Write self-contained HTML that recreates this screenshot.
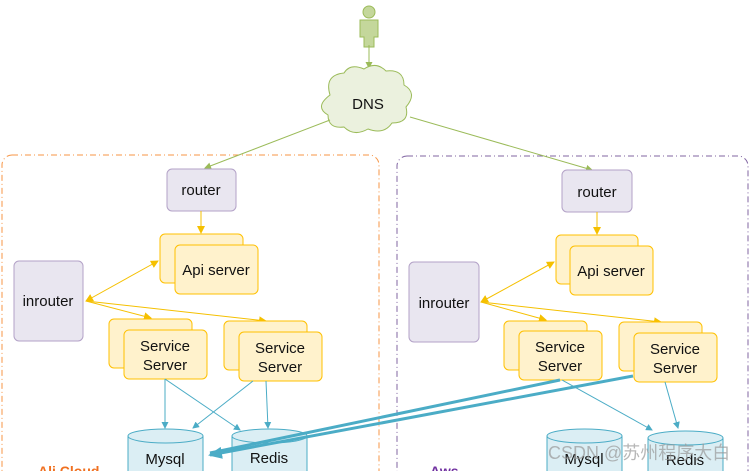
<!DOCTYPE html>
<html><head><meta charset="utf-8"><style>
html,body{margin:0;padding:0;background:#fff;width:751px;height:471px;overflow:hidden}
text{font-family:"Liberation Sans","Noto Sans CJK SC",sans-serif;fill:#111}
</style></head><body>
<svg width="751" height="471" viewBox="0 0 751 471" xmlns="http://www.w3.org/2000/svg">
<defs>
<marker id="ay" markerWidth="8" markerHeight="8" refX="7" refY="4" orient="auto" markerUnits="userSpaceOnUse"><path d="M0,0 L8,4 L0,8z" fill="#f5c000"/></marker>
<marker id="ays" markerWidth="8" markerHeight="8" refX="1" refY="4" orient="auto" markerUnits="userSpaceOnUse"><path d="M8,0 L0,4 L8,8z" fill="#f5c000"/></marker>
<marker id="ab" markerWidth="7" markerHeight="7" refX="6" refY="3.5" orient="auto" markerUnits="userSpaceOnUse"><path d="M0,0 L7,3.5 L0,7z" fill="#4bacc6"/></marker>
<marker id="ag" markerWidth="7" markerHeight="7" refX="6" refY="3.5" orient="auto" markerUnits="userSpaceOnUse"><path d="M0,0 L7,3.5 L0,7z" fill="#9bbb59"/></marker>
<marker id="abig" markerWidth="14" markerHeight="12" refX="12" refY="6" orient="auto" markerUnits="userSpaceOnUse"><path d="M0,0 L14,6 L0,12z" fill="#4bacc6"/></marker>
</defs>
<rect x="2" y="155" width="377" height="330" rx="10" fill="none" stroke="#f79646" stroke-dasharray="6,3,1,3"/>
<rect x="397" y="156" width="351" height="330" rx="10" fill="none" stroke="#8064a2" stroke-dasharray="6,3,1,3"/>
<text x="38" y="476" font-size="14" font-weight="bold" style="fill:#f07020">Ali Cloud</text>
<text x="430" y="476" font-size="14" font-weight="bold" style="fill:#7030a0">Aws</text>
<g fill="#c4d79b" stroke="#9bbb59" stroke-width="1">
<circle cx="369" cy="12" r="6"/>
<path d="M360,20 h18 v17 h-4 v10 h-10 v-10 h-4z"/>
</g>
<line x1="369" y1="45" x2="369" y2="68" stroke="#9bbb59" marker-end="url(#ag)"/>
<path d="M330,95 q-6,-20 14,-22 q6,-10 20,-4 q12,-8 22,2 q18,-2 18,14 q14,8 2,22 q4,16 -14,16 q-8,12 -24,6 q-14,8 -24,-2 q-16,2 -16,-12 q-14,-8 2,-20z" fill="#ebf1de" stroke="#9bbb59"/>
<text x="368" y="109" font-size="15" text-anchor="middle">DNS</text>
<line x1="330" y1="120" x2="205" y2="168" stroke="#9bbb59" marker-end="url(#ag)"/>
<line x1="410" y1="117" x2="592" y2="170" stroke="#9bbb59" marker-end="url(#ag)"/>
<g stroke-width="1" font-size="15">
<rect x="167" y="169" width="69" height="42" rx="5" fill="#e9e6f0" stroke="#b3a2c7"/>
<text x="201" y="195" text-anchor="middle">router</text>
<line x1="201" y1="211" x2="201" y2="233" stroke="#f5c000" marker-end="url(#ay)"/>
<rect x="160" y="234" width="83" height="49" rx="5" fill="#fff2cc" stroke="#ffc000"/>
<rect x="175" y="245" width="83" height="49" rx="5" fill="#fff2cc" stroke="#ffc000"/>
<text x="216" y="275" text-anchor="middle">Api server</text>
<rect x="14" y="261" width="69" height="80" rx="5" fill="#e9e6f0" stroke="#b3a2c7"/>
<text x="48" y="306" text-anchor="middle">inrouter</text>
<line x1="86" y1="301" x2="158" y2="261" stroke="#f5c000" marker-end="url(#ay)" marker-start="url(#ays)"/>
<line x1="86" y1="301" x2="151" y2="318" stroke="#f5c000" marker-end="url(#ay)"/>
<line x1="86" y1="301" x2="266" y2="321" stroke="#f5c000" marker-end="url(#ay)"/>
<rect x="109" y="319" width="83" height="49" rx="5" fill="#fff2cc" stroke="#ffc000"/>
<rect x="124" y="330" width="83" height="49" rx="5" fill="#fff2cc" stroke="#ffc000"/>
<text x="165" y="351" text-anchor="middle">Service</text>
<text x="165" y="370" text-anchor="middle">Server</text>
<rect x="224" y="321" width="83" height="49" rx="5" fill="#fff2cc" stroke="#ffc000"/>
<rect x="239" y="332" width="83" height="49" rx="5" fill="#fff2cc" stroke="#ffc000"/>
<text x="280" y="353" text-anchor="middle">Service</text>
<text x="280" y="372" text-anchor="middle">Server</text>
<line x1="165" y1="379" x2="165" y2="428" stroke="#4bacc6" marker-end="url(#ab)"/>
<line x1="165" y1="379" x2="240" y2="430" stroke="#4bacc6" marker-end="url(#ab)"/>
<line x1="253" y1="381" x2="193" y2="428" stroke="#4bacc6" marker-end="url(#ab)"/>
<line x1="266" y1="381" x2="268" y2="428" stroke="#4bacc6" marker-end="url(#ab)"/>
<path d="M128,436 v40 h75 v-40" fill="#dbeef4" stroke="#4bacc6"/>
<ellipse cx="165.5" cy="436" rx="37.5" ry="7" fill="#dbeef4" stroke="#4bacc6"/>
<text x="165" y="464" text-anchor="middle">Mysql</text>
<path d="M232,436 v40 h75 v-40" fill="#dbeef4" stroke="#4bacc6"/>
<ellipse cx="269.5" cy="436" rx="37.5" ry="7" fill="#dbeef4" stroke="#4bacc6"/>
<text x="269" y="463" text-anchor="middle">Redis</text>
</g>
<g stroke-width="1" font-size="15">
<rect x="562" y="170" width="70" height="42" rx="5" fill="#e9e6f0" stroke="#b3a2c7"/>
<text x="597" y="197" text-anchor="middle">router</text>
<line x1="597" y1="212" x2="597" y2="234" stroke="#f5c000" marker-end="url(#ay)"/>
<rect x="556" y="235" width="82" height="49" rx="5" fill="#fff2cc" stroke="#ffc000"/>
<rect x="570" y="246" width="83" height="49" rx="5" fill="#fff2cc" stroke="#ffc000"/>
<text x="611" y="276" text-anchor="middle">Api server</text>
<rect x="409" y="262" width="70" height="80" rx="5" fill="#e9e6f0" stroke="#b3a2c7"/>
<text x="444" y="308" text-anchor="middle">inrouter</text>
<line x1="481" y1="302" x2="554" y2="262" stroke="#f5c000" marker-end="url(#ay)" marker-start="url(#ays)"/>
<line x1="481" y1="302" x2="546" y2="320" stroke="#f5c000" marker-end="url(#ay)"/>
<line x1="481" y1="302" x2="661" y2="322" stroke="#f5c000" marker-end="url(#ay)"/>
<rect x="504" y="321" width="83" height="49" rx="5" fill="#fff2cc" stroke="#ffc000"/>
<rect x="519" y="331" width="83" height="49" rx="5" fill="#fff2cc" stroke="#ffc000"/>
<text x="560" y="352" text-anchor="middle">Service</text>
<text x="560" y="371" text-anchor="middle">Server</text>
<rect x="619" y="322" width="83" height="49" rx="5" fill="#fff2cc" stroke="#ffc000"/>
<rect x="634" y="333" width="83" height="49" rx="5" fill="#fff2cc" stroke="#ffc000"/>
<text x="675" y="354" text-anchor="middle">Service</text>
<text x="675" y="373" text-anchor="middle">Server</text>
<line x1="562" y1="380" x2="652" y2="430" stroke="#4bacc6" marker-end="url(#ab)"/>
<line x1="665" y1="382" x2="678" y2="428" stroke="#4bacc6" marker-end="url(#ab)"/>
<path d="M547,436 v40 h75 v-40" fill="#dbeef4" stroke="#4bacc6"/>
<ellipse cx="584.5" cy="436" rx="37.5" ry="7" fill="#dbeef4" stroke="#4bacc6"/>
<text x="584" y="464" text-anchor="middle">Mysql</text>
<path d="M648,438 v40 h75 v-40" fill="#dbeef4" stroke="#4bacc6"/>
<ellipse cx="685.5" cy="438" rx="37.5" ry="7" fill="#dbeef4" stroke="#4bacc6"/>
<text x="685" y="465" text-anchor="middle">Redis</text>
</g>
<line x1="560" y1="380" x2="210" y2="453" stroke="#4bacc6" stroke-width="3"/>
<line x1="633" y1="376" x2="210" y2="455" stroke="#4bacc6" stroke-width="3" marker-end="url(#abig)"/>
<text x="548" y="459" font-size="18" style="fill:#999;opacity:0.7">CSDN @苏州程序大白</text>
</svg>
</body></html>
